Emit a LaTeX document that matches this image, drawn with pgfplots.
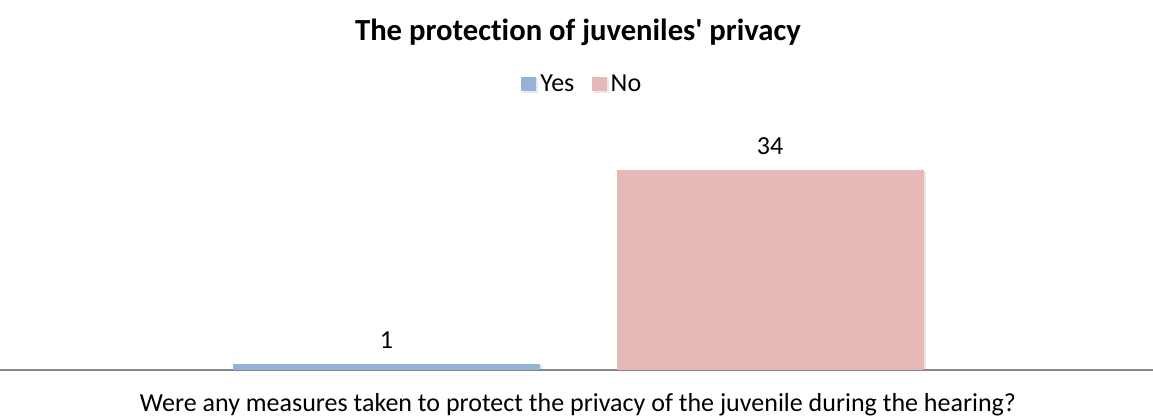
\documentclass[border=0pt]{standalone}
\usepackage{pgfplots}
\pgfplotsset{compat=1.18}
\usetikzlibrary{shadows}
\usepackage{fontspec}
\setmainfont{Carlito}[Ligatures={NoCommon}]
\definecolor{yesblue}{HTML}{95B3D7}
\definecolor{nopink}{HTML}{E6B9B8}
\definecolor{axisgray}{HTML}{868686}
\begin{document}
\begin{tikzpicture}[x=0.75pt,y=0.75pt]
\path[use as bounding box] (0,-48) rectangle (1153,370);
\begin{axis}[
  at={(0,0)}, anchor=south west,
  scale only axis, width=864.75pt, height=176.25pt,
  xmin=0, xmax=1153, ymin=0, ymax=40,
  axis x line*=bottom, hide y axis,
  x axis line style={draw=axisgray, line width=2.2pt, -},
  xtick=\empty, ytick=\empty,
  ybar, bar shift=0pt, bar width=307,
  clip=false,
  /pgf/number format/assume math mode=true,
  nodes near coords,
  every node near coord/.append style={font=\fontsize{19.5}{22}\selectfont, text=black, yshift=8pt},
  legend style={draw=none, at={(437pt,214.5pt)}, anchor=center, legend columns=2,
    font=\fontsize{19.5}{22}\selectfont, /tikz/every even column/.append style={column sep=11pt},
    /tikz/every odd column/.append style={column sep=1pt}},
]
\addplot[fill=yesblue, draw=none, drop shadow={opacity=0.18, shadow xshift=1.5pt, shadow yshift=-1pt},
  legend image code/.code={\fill[yesblue] (0pt,-5.6pt) rectangle (11.25pt,5.6pt);}] coordinates {(386.5,1)};
\addlegendentry{Yes}
\addplot[fill=nopink, draw=none, drop shadow={opacity=0.18, shadow xshift=1.5pt, shadow yshift=-1pt},
  legend image code/.code={\fill[nopink] (0pt,-5.6pt) rectangle (11.25pt,5.6pt);}] coordinates {(770,34)};
\addlegendentry{No}
\end{axis}
\node[font=\bfseries\fontsize{23}{26}\selectfont] at (578,338) {The protection of juveniles\textquotesingle\ privacy};
\node[font=\fontsize{19.5}{22}\selectfont] at (578,-35) {Were any measures taken to protect the privacy of the juvenile during the hearing?};
\end{tikzpicture}
\end{document}
